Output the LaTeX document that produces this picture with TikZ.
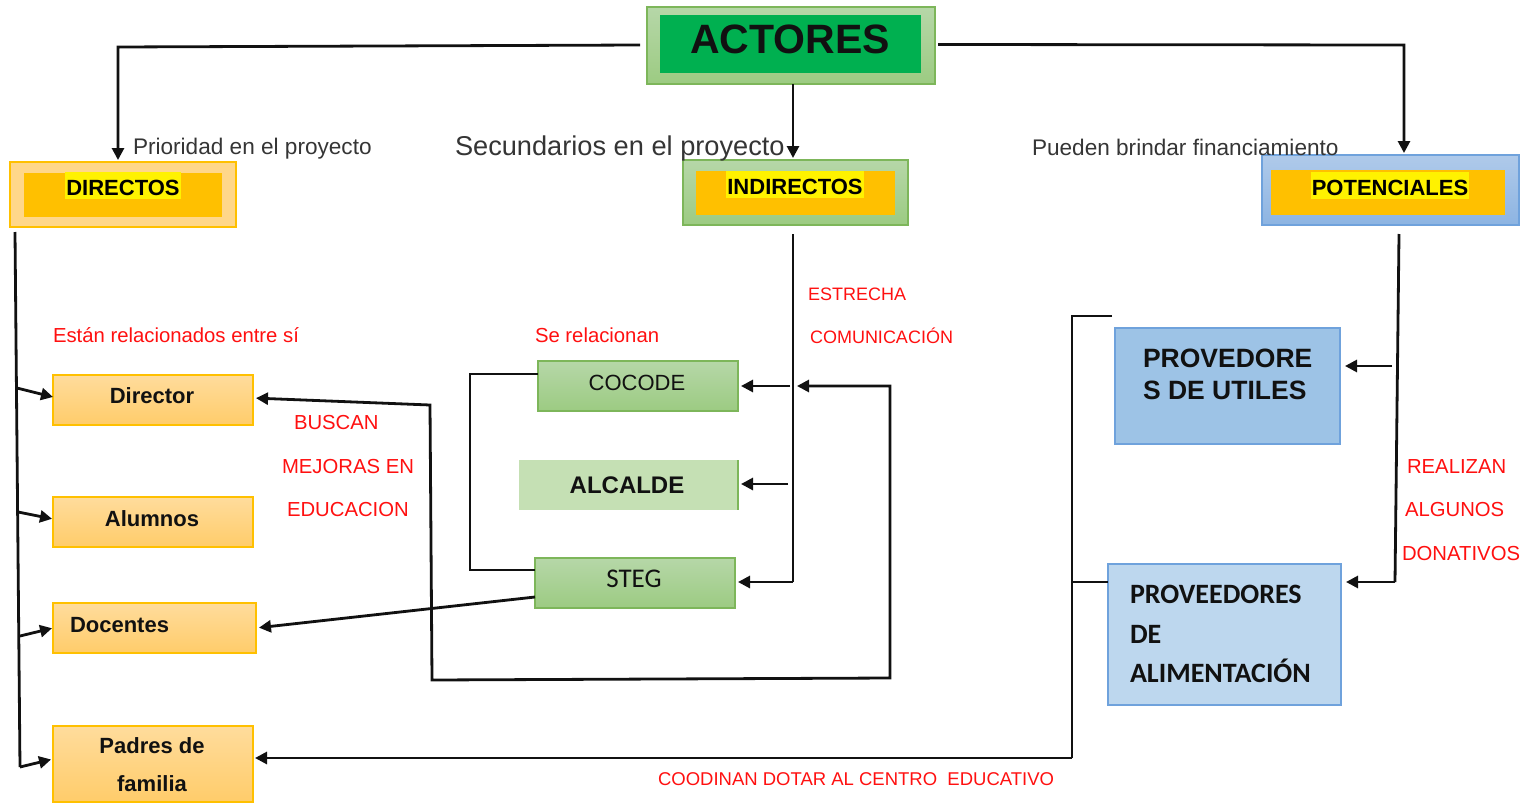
\documentclass[tikz,border=0pt]{standalone}
\usepackage{fontspec}
\setmainfont{Liberation Sans}
\newfontfamily\calib{Carlito}
\usetikzlibrary{arrows.meta}
\definecolor{grtop}{HTML}{B6D7A8}
\definecolor{grbot}{HTML}{9CCB82}
\definecolor{grline}{HTML}{7DB65A}
\definecolor{grin}{HTML}{00B050}
\definecolor{orin}{HTML}{FFC000}
\definecolor{orout}{HTML}{FFD78A}
\definecolor{ortop}{HTML}{FFDC9C}
\definecolor{orbot}{HTML}{FFCC6A}
\definecolor{bltop}{HTML}{AFCAEA}
\definecolor{blbot}{HTML}{8DB4E2}
\definecolor{blline}{HTML}{6FA2DC}
\definecolor{blutil}{HTML}{9DC3E6}
\definecolor{blalim}{HTML}{BDD7EE}
\definecolor{alc}{HTML}{C5E0B4}
\definecolor{redt}{HTML}{FF1010}
\definecolor{ink}{HTML}{111111}
\begin{document}
\begin{tikzpicture}[x=1pt,y=-1pt,
  every node/.style={inner sep=0pt, outer sep=0pt},
  gbox/.style={top color=grtop, bottom color=grbot, draw=grline, line width=1.2pt},
  obox/.style={top color=ortop, bottom color=orbot, draw=orin, line width=1.2pt},
  hl/.style={fill=yellow, inner xsep=1pt, text height=23pt, text depth=4pt, anchor=base, font=\bfseries\fontsize{22}{26}\selectfont},
  lbl/.style={anchor=base, text=ink, font=\bfseries\fontsize{22}{26}\selectfont},
  note/.style={anchor=base west, text=ink!85, font=\fontsize{22.6}{26}\selectfont},
  red/.style={anchor=base west, text=redt, font=\fontsize{20.3}{24}\selectfont},
  conn/.style={draw=ink, line width=2.8pt},
  arr/.style={conn, -{Triangle[length=12pt,width=12pt]}},
  arrb/.style={conn, {Triangle[length=12pt,width=12pt]}-{Triangle[length=12pt,width=12pt]}}
]
\useasboundingbox[fill=white] (0,0) rectangle (1530,803);

% ---- top boxes
\node[gbox, minimum width=288pt, minimum height=77pt] (actores) at (791,45.5) {};
\node[fill=grin, minimum width=261pt, minimum height=58pt] (actoresin) at (790.5,44) {};
\node[anchor=base, text=ink, font=\bfseries\fontsize{41}{48}\selectfont] (actorest) at (790,53) {ACTORES};

\node[fill=orout, draw=orin, line width=1.2pt, minimum width=226pt, minimum height=65pt] (directos) at (123,194.5) {};
\node[fill=orin, minimum width=198pt, minimum height=44pt] (directosin) at (123,195) {};
\node[hl] (directost) at (123,195) {DIRECTOS};

\node[gbox, minimum width=225pt, minimum height=65pt] (indirectos) at (795.5,192.5) {};
\node[fill=orin, minimum width=199pt, minimum height=44pt] (indirectosin) at (795.5,193) {};
\node[hl] (indirectost) at (795,194) {INDIRECTOS};

\node[top color=bltop, bottom color=blbot, draw=blline, line width=1.2pt, minimum width=257pt, minimum height=70pt] (potenciales) at (1390.5,190) {};
\node[fill=orin, minimum width=234pt, minimum height=45pt] (potencialesin) at (1388,192.5) {};
\node[hl] (potencialest) at (1390,195) {POTENCIALES};

% ---- top notes
\node[note] (prio) at (133,154) {Prioridad en el proyecto};
\node[note, font=\fontsize{27.2}{31}\selectfont] (secu) at (455,155) {Secundarios en el proyecto};
\node[note] (pued) at (1032,155) {Pueden brindar financiamiento};

% ---- left column
\node[obox, minimum width=200pt, minimum height=50pt] (director) at (153,400) {};
\node[lbl] (directort) at (152,403) {Director};
\node[obox, minimum width=200pt, minimum height=50pt] (alumnos) at (153,522) {};
\node[lbl] (alumnost) at (152,526) {Alumnos};
\node[obox, minimum width=203pt, minimum height=50pt] (docentes) at (154.5,628) {};
\node[lbl, anchor=base west] (docentest) at (70,632) {Docentes};
\node[obox, minimum width=200pt, minimum height=76pt] (padres) at (153,764) {};
\node[lbl] (padrest1) at (152,753) {Padres de};
\node[lbl] (padrest2) at (152,791) {familia};

% ---- middle column
\node[gbox, minimum width=200pt, minimum height=50pt] (cocode) at (638,386) {};
\node[anchor=base, text=ink, font=\fontsize{22}{26}\selectfont] (cocodet) at (637,390) {COCODE};
\node[fill=alc, minimum width=219pt, minimum height=50pt] (alcalde) at (628.5,485) {};
\draw[grline, line width=1.2pt] (alcalde.north east) -- (alcalde.south east);
\node[lbl, font=\bfseries\fontsize{24}{28}\selectfont] (alcaldet) at (627,493) {ALCALDE};
\node[gbox, minimum width=200pt, minimum height=50pt] (steg) at (635,583) {};
\node[anchor=base, text=ink, font=\calib\fontsize{27}{30}\selectfont] (stegt) at (634,587) {STEG};

% ---- right column
\node[fill=blutil, draw=blline, line width=1.2pt, minimum width=225pt, minimum height=116pt] (utiles) at (1227.5,386) {};
\node[lbl, anchor=base west, font=\bfseries\fontsize{26.5}{30}\selectfont] (utilest1) at (1143,367) {PROVEDORE};
\node[lbl, anchor=base west, font=\bfseries\fontsize{26.5}{30}\selectfont] (utilest2) at (1143,399) {S DE UTILES};
\node[fill=blalim, draw=blline, line width=1.2pt, minimum width=233pt, minimum height=141pt] (alim) at (1224.5,634.5) {};
\node[lbl, anchor=base west, font=\calib\bfseries\fontsize{28}{32}\selectfont] (alimt1) at (1130,603) {PROVEEDORES};
\node[lbl, anchor=base west, font=\calib\bfseries\fontsize{28}{32}\selectfont] (alimt2) at (1130,643) {DE};
\node[lbl, anchor=base west, font=\calib\bfseries\fontsize{28}{32}\selectfont] (alimt3) at (1130,682) {ALIMENTACIÓN};

% ---- red notes
\node[red] (rel1) at (53,342) {Están relacionados entre sí};
\node[red] (rel2) at (535,342) {Se relacionan};
\node[red, font=\fontsize{18}{22}\selectfont] (estr) at (808,300) {ESTRECHA};
\node[red, font=\fontsize{18}{22}\selectfont] (comu) at (810,343) {COMUNICACIÓN};
\node[red] (busc) at (294,429) {BUSCAN};
\node[red] (mejo) at (282,473) {MEJORAS EN};
\node[red] (educ) at (287,516) {EDUCACION};
\node[red] (real) at (1407,473) {REALIZAN};
\node[red] (algu) at (1405,516) {ALGUNOS};
\node[red] (dona) at (1402,560) {DONATIVOS};
\node[red, font=\fontsize{18.5}{22}\selectfont] (coor) at (658,785) {COODINAN DOTAR AL CENTRO \ EDUCATIVO};

% ---- coordinates for connector bends
\coordinate (c1) at (118,47);
\coordinate (c2) at (1404,45);
\coordinate (d0) at (15,232);
\coordinate (d1) at (17,388);
\coordinate (d2) at (18,512);
\coordinate (d3) at (20,636);
\coordinate (d4) at (20,767);
\coordinate (i0) at (793,234);
\coordinate (i1) at (790,386);
\coordinate (i2) at (788,484);
\coordinate (i3) at (793,582);
\coordinate (l1) at (430,405);
\coordinate (l2) at (432,680);
\coordinate (l3) at (890,678);
\coordinate (l4) at (890,386);
\coordinate (l5) at (797,386);
\coordinate (b1) at (470,374);
\coordinate (b2) at (470,570);
\coordinate (p0) at (1399,234);
\coordinate (p1) at (1392,366);
\coordinate (p3) at (1395,582);
\coordinate (r0) at (1112,316);
\coordinate (r1) at (1072,316);
\coordinate (r2) at (1072,758);
\coordinate (r3) at (1072,582);

% ---- connectors
\draw[arr, shorten >=2pt] ([xshift=-7pt,yshift=0.5pt]actores.west) -- (c1) -- (c1 |- directos.north);
\draw[arr, shorten >=2pt] ([xshift=2pt]actores.south) -- ([xshift=2pt]actores.south |- indirectos.north);
\draw[arr, shorten >=2pt] ([xshift=3pt,yshift=1pt]actores.east) -- (c2) -- (c2 |- potenciales.north);

\draw[conn] (d0) -- (d4);
\draw[arr] (d1) -- ([yshift=3pt]director.west);
\draw[arr, shorten >=1pt] (d2) -- ([yshift=3pt]alumnos.west);
\draw[arr, shorten >=1pt] (d3) -- (docentes.west);
\draw[arr, shorten >=2pt] (d4) -- ([yshift=5pt]padres.west);

\draw[conn] (i0) -- (i3);
\draw[arr, shorten >=3pt] (i1) -- (cocode.east);
\draw[arr, shorten >=3pt] (i2) -- (i2 -| alcalde.east);
\draw[arr, shorten >=3pt] (i3) -- (i3 -| steg.east);

\draw[arrb, shorten <=3pt] ([yshift=2pt]director.east) -- (l1) -- (l2) -- (l3) -- (l4) -- (l5);

\draw[conn] ([yshift=12pt]cocode.west) -- (b1) -- (b2) -- (b2 -| steg.west);
\draw[arr, shorten >=3pt] ([yshift=-14pt]steg.west) -- (docentes.east);

\draw[conn] (p0) -- (p3);
\draw[arr, shorten >=5pt] (p1) -- (p1 -| utiles.east);
\draw[arr, shorten >=5pt] (p3) -- (p3 -| alim.east);

\draw[conn] (r0) -- (r1) -- (r2);
\draw[arr, shorten >=2pt] (r2) -- (r2 -| padres.east);
\draw[conn] (r3) -- (r3 -| alim.west);
\end{tikzpicture}
\end{document}
